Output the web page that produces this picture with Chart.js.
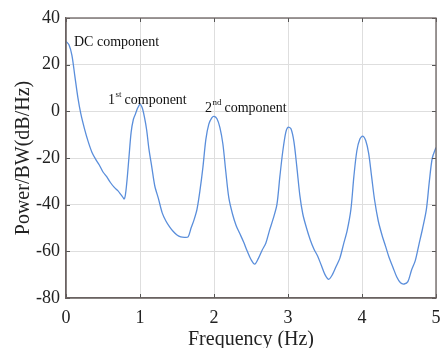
<!DOCTYPE html>
<html>
<head>
<meta charset="utf-8">
<script src="https://cdn.jsdelivr.net/npm/chart.js@4/dist/chart.umd.min.js"></script>
<style>
  html, body { margin: 0; padding: 0; background: #fff; }
  #wrap { width: 440px; height: 348px; position: relative; }
</style>
</head>
<body>
<div id="wrap"><canvas id="c" width="440" height="348"></canvas></div>
<script>
// ---- data ----
const freqHz = [0, 0.04, 0.08, 0.12, 0.16, 0.2, 0.25, 0.3, 0.35, 0.4, 0.45, 0.5, 0.55, 0.6, 0.65, 0.7, 0.75, 0.79,
  0.82, 0.85, 0.88, 0.91, 0.94, 0.97, 1.0, 1.03, 1.06, 1.09, 1.12, 1.16, 1.2, 1.25, 1.3, 1.35, 1.4, 1.45, 1.5, 1.55,
  1.6, 1.65, 1.69, 1.73, 1.77, 1.81, 1.85, 1.89, 1.93, 1.97, 2.0, 2.04, 2.08, 2.12, 2.16, 2.2, 2.25, 2.3, 2.35, 2.4,
  2.45, 2.5, 2.55, 2.6, 2.65, 2.7, 2.75, 2.8, 2.85, 2.89, 2.93, 2.97, 3.0, 3.04, 3.08, 3.12, 3.16, 3.2, 3.25, 3.3,
  3.35, 3.4, 3.45, 3.5, 3.55, 3.6, 3.65, 3.7, 3.75, 3.8, 3.85, 3.89, 3.93, 3.97, 4.01, 4.05, 4.09, 4.13, 4.17, 4.22,
  4.27, 4.32, 4.37, 4.42, 4.47, 4.52, 4.57, 4.62, 4.67, 4.72, 4.77, 4.82, 4.87, 4.91, 4.95, 5.0];
const powerDb = [30, 28.5, 24, 15, 6, -1, -7.5, -13, -17.5, -20.5, -23, -26, -28, -30.5, -32.5, -34, -36, -37.5,
  -31, -20, -9, -3.5, -1, 1.5, 3, 1.5, -2.5, -8, -16, -24, -32, -37.5, -43.5, -47, -49.5, -51.5, -53, -53.8,
  -54, -53.8, -50, -46.5, -42, -34, -24, -12, -5.5, -2.8, -2.2, -3.2, -7, -14, -26, -37, -44, -49, -52.5, -56,
  -60, -63.5, -65.5, -63, -59.5, -56.5, -51, -46, -40, -28, -17, -9, -6.8, -7.5, -13, -24, -36, -44, -50, -55,
  -59, -62, -66, -70, -72, -70, -66.5, -63, -57, -51, -42, -28, -17, -12, -10.6, -12.5, -18, -28, -38, -47,
  -53, -58, -63, -67, -71, -73.5, -74, -73, -68, -64, -57, -50, -42, -30, -20, -15.5];
const xTicks = [0, 1, 2, 3, 4, 5];
const yTicks = [-80, -60, -40, -20, 0, 20, 40];
const labelMain = ['DC component', '1', '2'];
const labelSup = ['', 'st', 'nd'];
const labelTail = ['', 'component', 'component'];
const labelFreq = [0.108, 0.568, 1.878];
const labelPower = [28.2, 3.1, -0.1];
const xTitle = 'Frequency (Hz)';
const yTitle = 'Power/BW(dB/Hz)';

const SERIF = '"Liberation Serif", "DejaVu Serif", serif';
const points = freqHz.map((f, i) => ({ x: f, y: powerDb[i] }));

const boxPlugin = {
  id: 'boxPlugin',
  afterDatasetsDraw(chart) {
    const { ctx, chartArea: a, scales } = chart;
    ctx.save();
    ctx.strokeStyle = '#555';
    ctx.lineWidth = 1;
    const tl = 4;
    xTicks.forEach(v => {
      const px = Math.round(scales.x.getPixelForValue(v)) + 0.5;
      ctx.beginPath();
      ctx.moveTo(px, a.bottom); ctx.lineTo(px, a.bottom - tl);
      ctx.moveTo(px, a.top); ctx.lineTo(px, a.top + tl);
      ctx.stroke();
    });
    yTicks.forEach(v => {
      const py = Math.round(scales.y.getPixelForValue(v)) + 0.5;
      ctx.beginPath();
      ctx.moveTo(a.left, py); ctx.lineTo(a.left + tl, py);
      ctx.moveTo(a.right, py); ctx.lineTo(a.right - tl, py);
      ctx.stroke();
    });
    ctx.strokeStyle = '#6b6362';
    ctx.lineWidth = 1.3;
    ctx.strokeRect(a.left, a.top, a.right - a.left, a.bottom - a.top);
    ctx.fillStyle = '#111';
    ctx.textBaseline = 'alphabetic';
    ctx.textAlign = 'left';
    labelMain.forEach((m, i) => {
      let px = scales.x.getPixelForValue(labelFreq[i]);
      const py = scales.y.getPixelForValue(labelPower[i]);
      ctx.font = '14px ' + SERIF;
      ctx.fillText(m, px, py);
      px += ctx.measureText(m).width;
      if (labelSup[i]) {
        ctx.font = '9px ' + SERIF;
        ctx.fillText(labelSup[i], px + 0.5, py - 7);
        px += ctx.measureText(labelSup[i]).width + 3.5;
      }
      if (labelTail[i]) {
        ctx.font = '14px ' + SERIF;
        ctx.fillText(labelTail[i], px, py);
      }
    });
    ctx.restore();
  }
};

new Chart(document.getElementById('c'), {
  type: 'line',
  data: {
    datasets: [{
      data: points,
      borderColor: '#5a8edb',
      borderWidth: 1.3,
      pointRadius: 0,
      tension: 0.3,
      fill: false
    }]
  },
  options: {
    responsive: false,
    animation: false,
    layout: { padding: { top: 18, right: 4, left: 0, bottom: 0 } },
    plugins: { legend: { display: false }, tooltip: { enabled: false } },
    scales: {
      x: {
        type: 'linear',
        min: 0, max: 5,
        afterBuildTicks: s => { s.ticks = xTicks.map(v => ({ value: v })); },
        afterFit: s => { s.height = 50; s.paddingRight = 0; s.paddingLeft = 0; },
        grid: { color: '#dedede', lineWidth: 1, drawTicks: false },
        border: { display: true, color: '#6b6362', width: 1.3 },
        ticks: { padding: 9, color: '#222', font: { family: SERIF, size: 18 } },
        title: { display: true, text: xTitle, color: '#222', font: { family: SERIF, size: 20, lineHeight: 1 }, padding: { top: 0, bottom: -2 } }
      },
      y: {
        type: 'linear',
        min: -80, max: 40,
        afterBuildTicks: s => { s.ticks = yTicks.map(v => ({ value: v })); },
        afterFit: s => { s.width = 66; s.paddingTop = 0; s.paddingBottom = 0; },
        grid: { color: '#dedede', lineWidth: 1, drawTicks: false },
        border: { display: true, color: '#6b6362', width: 1.3 },
        ticks: { padding: 6, color: '#222', font: { family: SERIF, size: 18 } },
        title: { display: true, text: yTitle, color: '#222', font: { family: SERIF, size: 20, lineHeight: 1 }, padding: { top: 14, bottom: 0 } }
      }
    }
  },
  plugins: [boxPlugin]
});
</script>
</body>
</html>
